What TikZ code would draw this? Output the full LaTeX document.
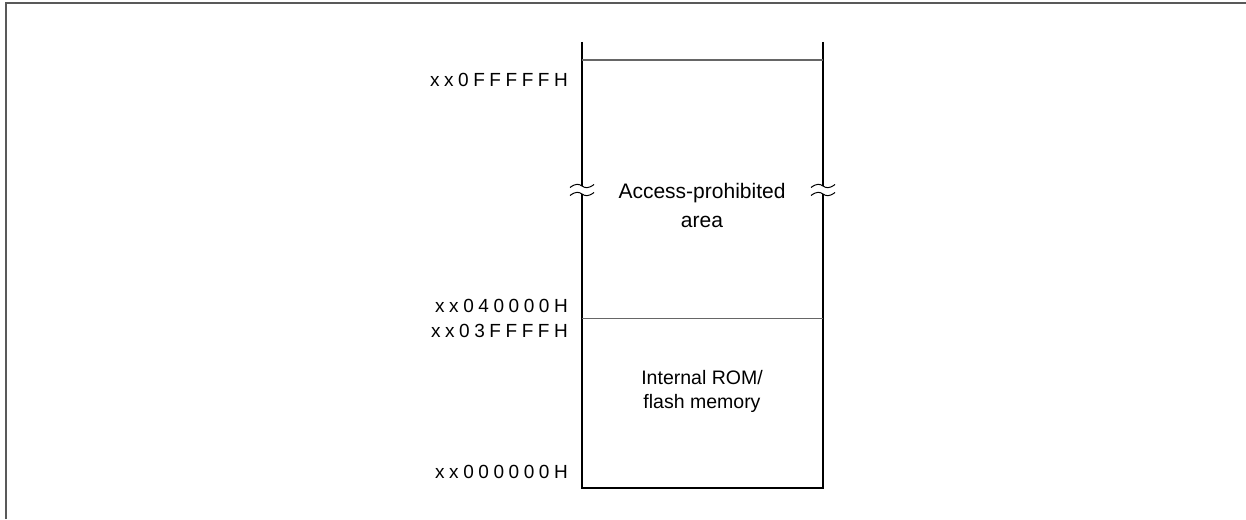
\documentclass[tikz,border=0pt]{standalone}
\usepackage{fontspec}
\setmainfont{Liberation Sans}
\newfontfamily\addrfont[LetterSpace=24]{Liberation Sans}
\begin{document}
\begin{tikzpicture}[x=1pt,y=-1pt,
  frameline/.style={draw=black!65,line width=2pt},
  rail/.style={draw=black,line width=2.9pt},
  thinline/.style={draw=black!60,line width=1pt},
  breakmark/.style={draw=black,line width=1pt},
  addr/.style={anchor=east,inner sep=0pt,font=\addrfont\fontsize{19}{22}\selectfont},
  area/.style={align=center,inner sep=0pt,font=\fontsize{21}{29}\selectfont},
  romarea/.style={align=center,inner sep=0pt,font=\fontsize{19.5}{24}\selectfont}]
\useasboundingbox (0,0) rectangle (1246,519);

% partial outer frame
\draw[frameline] (6,519) -- (6,3) -- (1246,3);

% memory column corners
\coordinate (lt) at (582,42);
\coordinate (rt) at (823,42);
\coordinate (lb) at (582,488);
\coordinate (rb) at (823,488);
\coordinate (lbreakA) at (582,186);
\coordinate (lbreakB) at (582,194);
\coordinate (rbreakA) at (823,186);
\coordinate (rbreakB) at (823,194);

% rails of the column, interrupted at the break
\draw[rail] (lt) -- (lbreakA);
\draw[rail] (rt) -- (rbreakA);
\draw[rail,line join=miter] (lbreakB) -- (lb) -- (rb) -- (rbreakB);

% boundaries inside the column
\draw[thinline] (582,60) -- (823,60);
\draw[thinline] (582,318) -- (823,318);

% break symbols
\foreach \bx in {582,823}{
  \foreach \by in {186,194}{
    \draw[breakmark] (\bx-12,\by+1.5) .. controls (\bx-6,\by-3) and (\bx-3,\by-2) .. (\bx,\by)
                     .. controls (\bx+3,\by+2) and (\bx+6,\by+3) .. (\bx+12,\by-1.5);
  }
}

% area labels
\node[area] (prohib) at (702,205) {Access-prohibited\\area};
\node[romarea] (rom) at (702,391) {Internal ROM/\\flash memory};

% address labels
\node[addr] (a1) at (568,80) {xx0FFFFFH};
\node[addr] (a2) at (568,306) {xx040000H};
\node[addr] (a3) at (568,331) {xx03FFFFH};
\node[addr] (a4) at (568,472) {xx000000H};
\end{tikzpicture}
\end{document}
